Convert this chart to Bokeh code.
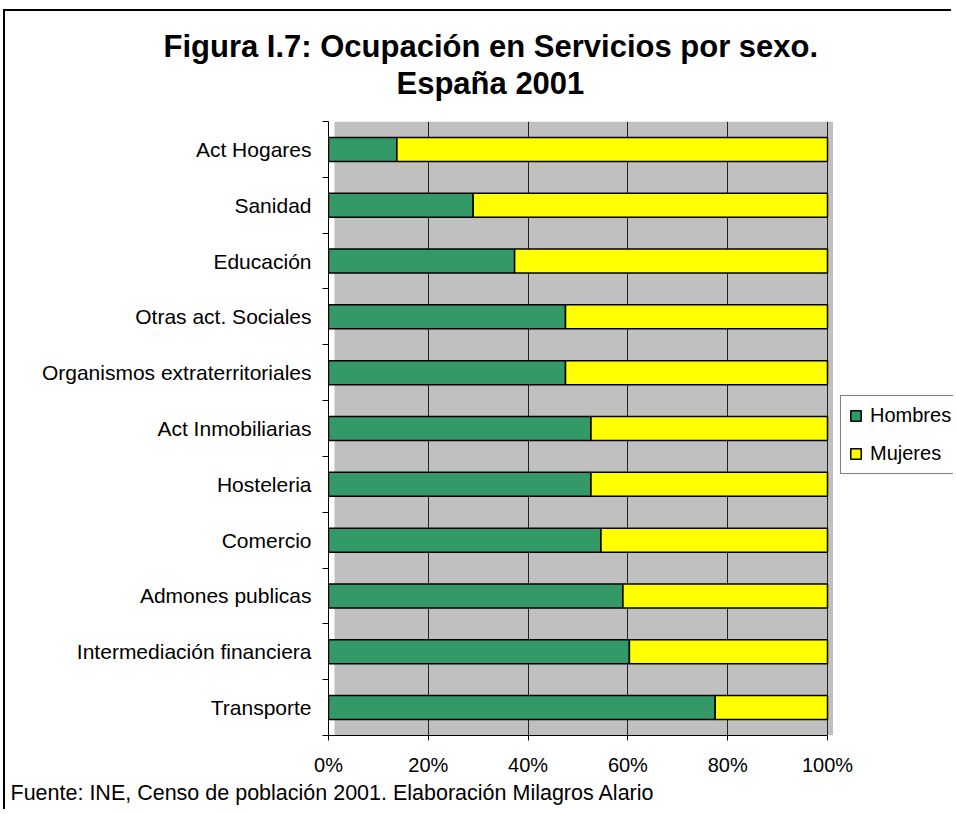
from bokeh.plotting import figure
from bokeh.models import (ColumnDataSource, FixedTicker, NumeralTickFormatter, Legend,
                          LegendItem, Title, BoxAnnotation, Range1d)
from bokeh.embed import file_html
from bokeh.resources import INLINE

# ---- data (top to bottom as shown) ----
categories = ["Act Hogares", "Sanidad", "Educación", "Otras act. Sociales",
              "Organismos extraterritoriales", "Act Inmobiliarias", "Hosteleria",
              "Comercio", "Admones publicas", "Intermediación financiera", "Transporte"]
hombres = [13.7, 29.0, 37.3, 47.5, 47.5, 52.6, 52.6, 54.6, 59.0, 60.3, 77.5]
mujeres = [86.3, 71.0, 62.7, 52.5, 52.5, 47.4, 47.4, 45.4, 41.0, 39.7, 22.5]
series_names = ["Hombres", "Mujeres"]
x_ticks = [0, 0.2, 0.4, 0.6, 0.8, 1.0]

FONT = "Liberation Sans"
n = len(categories)
pos = [n - 1 - i for i in range(n)]
tot = [h + m for h, m in zip(hombres, mujeres)]
h_frac = [h / t for h, t in zip(hombres, tot)]
m_end = [(h + m) / t for h, m, t in zip(hombres, mujeres, tot)]
src = ColumnDataSource(dict(pos=pos, cat=categories, h0=[0.0] * n, h1=h_frac, m0=h_frac, m1=m_end))

# layout in pixels
W, H = 948, 800
OX, OY = 5, 11            # content origin on the page (after css margin + border)
FRAME_L, FRAME_T, FRAME_B = 328, 121, 735
PX_PER_UNIT = 499.0       # 0% -> 100% width in px
frame_w = (OX + W) - FRAME_L
x_end = frame_w / PX_PER_UNIT

p = figure(width=W, height=H, output_backend="svg", toolbar_location=None,
           x_range=Range1d(0, x_end), y_range=Range1d(-0.5, n - 0.5),
           min_border_left=FRAME_L - OX, min_border_right=0,
           min_border_top=FRAME_T - OY, min_border_bottom=(OY + H) - FRAME_B)
p.background_fill_color = "white"
p.border_fill_color = "white"
p.outline_line_color = None
p.styles = {"margin-left": "3px", "margin-top": "9px",
            "border-left": "2px solid black", "border-top": "2px solid black"}

# grey plot area (0%..100%, slightly offset like the original)
p.add_layout(BoxAnnotation(left=0.012, right=1.011, fill_color="#C0C0C0", fill_alpha=1,
                           line_color=None, level="image"))

r_h = p.hbar(y="pos", left="h0", right="h1", height=0.43, source=src,
             fill_color="#339966", line_color="black", line_width=1.5)
r_m = p.hbar(y="pos", left="m0", right="m1", height=0.43, source=src,
             fill_color="#FFFF00", line_color="black", line_width=1.5)

# x axis
xa = p.xaxis[0]
xa.bounds = (0, 1)
xa.ticker = FixedTicker(ticks=x_ticks)
xa.formatter = NumeralTickFormatter(format="0%")
xa.major_tick_out = 5
xa.major_tick_in = 0
xa.minor_tick_out = 0
xa.minor_tick_in = 0
xa.axis_line_color = "black"
xa.major_tick_line_color = "black"
xa.major_label_text_font = FONT
xa.major_label_text_font_size = "20px"
xa.major_label_text_color = "black"
xa.major_label_standoff = 13

# y axis
ya = p.yaxis[0]
ya.ticker = FixedTicker(ticks=pos, minor_ticks=[k - 0.5 for k in range(n + 1)])
ya.major_label_overrides = {pp: c for pp, c in zip(pos, categories)}
ya.major_tick_out = 0
ya.major_tick_in = 0
ya.minor_tick_out = 6
ya.minor_tick_in = 0
ya.minor_tick_line_color = "black"
ya.axis_line_color = "black"
ya.major_label_text_font = FONT
ya.major_label_text_font_size = "21px"
ya.major_label_text_color = "black"
ya.major_label_standoff = 11

p.ygrid.grid_line_color = None
p.xgrid.ticker = FixedTicker(ticks=x_ticks)
p.xgrid.grid_line_color = "#222222"
p.xgrid.grid_line_width = 1
p.xgrid.level = "underlay"

# legend
legend = Legend(items=[LegendItem(label=series_names[0], renderers=[r_h]),
                       LegendItem(label=series_names[1], renderers=[r_m])],
                location=(840 - FRAME_L, FRAME_B - 474))
legend.label_text_font = FONT
legend.label_text_font_size = "20px"
legend.label_text_color = "black"
legend.glyph_width = 13
legend.glyph_height = 13
legend.label_height = 23
legend.label_standoff = 8
legend.spacing = 15
legend.padding = 8
legend.margin = 0
legend.border_line_color = "black"
legend.border_line_width = 1
legend.background_fill_color = "white"
legend.background_fill_alpha = 1
p.add_layout(legend, "center")

# titles (inner to outer)
spacer = Title(text=" ", text_font_size="1px", standoff=18)
t2 = Title(text="España 2001", align="left", offset=68, standoff=0, text_font=FONT,
           text_font_size="31px", text_font_style="bold", text_color="black")
t1 = Title(text="Figura I.7: Ocupación en Servicios por sexo.", align="left", offset=-165,
           standoff=0, text_font=FONT, text_font_size="31px", text_font_style="bold",
           text_color="black")
p.add_layout(spacer, "above")
p.add_layout(t2, "above")
p.add_layout(t1, "above")

foot = Title(text="Fuente: INE, Censo de población 2001. Elaboración Milagros Alario",
             align="left", offset=10 - FRAME_L, standoff=0, text_font=FONT,
             text_font_size="21.5px", text_font_style="normal", text_color="black")
p.add_layout(foot, "below")

open("out.html", "w").write(file_html(p, INLINE))
